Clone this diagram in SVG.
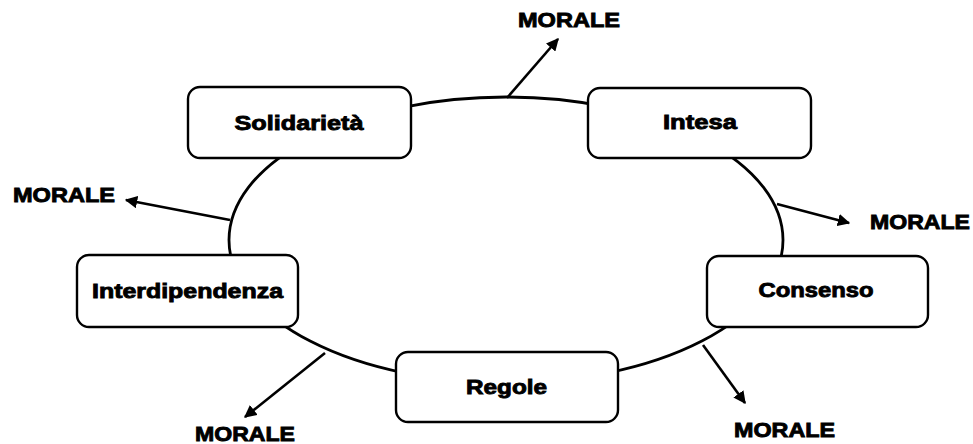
<svg xmlns="http://www.w3.org/2000/svg" width="973" height="444" viewBox="0 0 973 444">
  <style>
    .box { fill: #ffffff; stroke: #000000; stroke-width: 2.4; }
    .ring { fill: none; stroke: #000000; stroke-width: 2.8; }
    .link { fill: none; stroke: #000000; stroke-width: 2.6; marker-end: url(#head); }
    .lbl { font-family: "Liberation Sans", Arial, sans-serif; font-weight: bold; font-size: 21px; fill: #000000; stroke: #000000; stroke-width: 0.9; text-anchor: middle; }
  </style>
  <defs>
    <marker id="head" viewBox="0 0 10 10" refX="9" refY="5" markerWidth="4.8" markerHeight="4.8" orient="auto" markerUnits="strokeWidth">
      <path d="M0,0 L10,5 L0,10 z" fill="#000000"/>
    </marker>
  </defs>

  <!-- the cycle and the outward arrows -->
  <g id="connectors">
    <ellipse class="ring" cx="506" cy="240" rx="277" ry="143"/>
    <line class="link" x1="507" y1="98" x2="558" y2="39"/>
    <line class="link" x1="230" y1="220" x2="126" y2="200"/>
    <line class="link" x1="777" y1="204" x2="849" y2="223"/>
    <line class="link" x1="325" y1="353" x2="245" y2="417"/>
    <line class="link" x1="703" y1="345" x2="745" y2="403"/>
  </g>

  <g id="solidarieta">
    <rect class="box" x="188" y="87" width="223" height="71" rx="12"/>
    <text class="lbl" x="299" y="130" textLength="129" lengthAdjust="spacingAndGlyphs">Solidarietà</text>
  </g>
  <g id="intesa">
    <rect class="box" x="588" y="88" width="223" height="70" rx="12"/>
    <text class="lbl" x="700" y="129" textLength="74" lengthAdjust="spacingAndGlyphs">Intesa</text>
  </g>
  <g id="interdipendenza">
    <rect class="box" x="77" y="255" width="221" height="72" rx="12"/>
    <text class="lbl" x="187.5" y="298" textLength="191" lengthAdjust="spacingAndGlyphs">Interdipendenza</text>
  </g>
  <g id="consenso">
    <rect class="box" x="707" y="256" width="221" height="71" rx="12"/>
    <text class="lbl" x="816" y="297" textLength="115" lengthAdjust="spacingAndGlyphs">Consenso</text>
  </g>
  <g id="regole">
    <rect class="box" x="396" y="352" width="222" height="70" rx="12"/>
    <text class="lbl" x="506.5" y="394" textLength="81" lengthAdjust="spacingAndGlyphs">Regole</text>
  </g>

  <g id="morale-labels">
    <text class="lbl" x="569" y="27" textLength="102" lengthAdjust="spacingAndGlyphs">MORALE</text>
    <text class="lbl" x="64" y="202" textLength="102" lengthAdjust="spacingAndGlyphs">MORALE</text>
    <text class="lbl" x="920" y="229" textLength="100" lengthAdjust="spacingAndGlyphs">MORALE</text>
    <text class="lbl" x="245" y="441" textLength="100" lengthAdjust="spacingAndGlyphs">MORALE</text>
    <text class="lbl" x="784.5" y="437" textLength="101" lengthAdjust="spacingAndGlyphs">MORALE</text>
  </g>
</svg>
